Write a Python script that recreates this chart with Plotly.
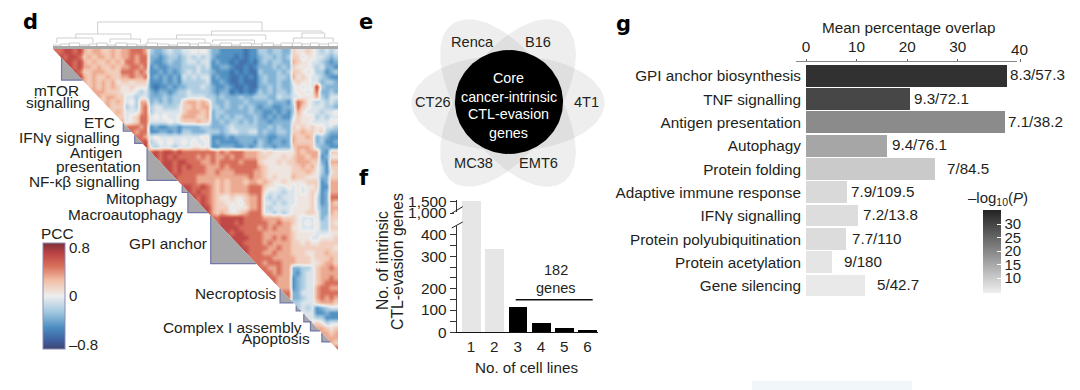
import numpy as np
import plotly.graph_objects as go

W, H = 1080, 390
FONT = "Liberation Sans"
INK = "#231f20"

pcc_levels = {"0":-.65,"1":-.5,"2":-.36,"3":-.22,"4":-.07,"5":.05,"6":.17,"7":.32,"8":.5,"9":.68}
pcc_rows = [
"889989|767766767|78887|3223433|445454|2211|111011|3323322|65565|43434",
"98998|676776767|78788|2212332|343434|2111|101011|2332323|66455|44323",
"9989|767667676|88788|2112322|344344|1211|010010|2323322|76554|43212",
"989|776766767|78878|1211222|333434|1122|100101|2223232|65554|34221",
"98|667776668|88787|1121212|343433|2111|010100|3222323|66545|33123",
"9|767667667|78778|1212121|434344|1211|001010|2322332|75654|43211",
"767676756|65666|1112121|333334|1121|001000|2322322|56554|42332",
"67676765|56555|1011212|233343|2112|100100|2232322|45454|93222",
"7776665|55434|2122123|343333|2122|010101|3232332|45545|82232",
"767766|44344|2223233|344443|3232|223223|3322433|44555|73244",
"67676|45377|2323233|677676|3223|222322|2232221|48754|34343",
"7666|34378|3443334|667677|3323|223232|1221122|38654|44332",
"676|44478|3444444|677767|2332|222232|2112121|37544|43445",
"66|45688|4545445|777667|2323|233223|2121211|46555|34344",
"7|45688|4444545|666766|2232|332323|2212222|56554|44455",
"88878|1211221|222233|2223|433333|2232322|65656|55443",
"8788|1122121|332223|3323|443344|2322332|66766|56322",
"887|4544444|444455|1112|122222|2211222|76676|23211",
"89|3454544|545445|1211|112221|3212212|76666|23112",
"9|4344434|445545|1122|211212|3221222|67776|32211",
"8989989|888888|8787|888777|6565555|57677|72166",
"989898|888787|8778|788777|6655565|67767|71255",
"89989|988877|8788|887888|6555656|67776|62177",
"9989|898887|7787|888888|7655555|66767|53166",
"989|888887|7877|788887|7655555|66676|53156",
"98|888777|7777|777787|7656555|76655|52266",
"8|888777|7676|777677|6765565|55566|61277",
"998898|7676|777788|8655445|45455|61177",
"98988|7676|777788|8544434|45456|51277",
"9898|7655|655677|8434344|45556|41288",
"898|7665|554677|8443434|45556|41276",
"99|7666|455577|8434444|55556|42277",
"9|7676|556788|8443434|55566|52276",
"8899|999888|8777766|65444|52366",
"899|989888|8877877|65454|53365",
"99|998888|7878777|55444|53366",
"9|899888|8777777|65555|44455",
"999988|8778787|65554|45556",
"99888|8787777|66565|56666",
"9988|8877877|66666|66665",
"988|8778777|66655|66766",
"88|8887777|76665|66676",
"8|8788877|76665|56776",
"8877877|22334|67787",
"887877|21344|67777",
"88777|12344|67787",
"8777|12344|67888",
"777|12344|78877",
"88|22444|78888",
"8|22344|78787",
"33444|67776",
"3434|12344",
"444|11211",
"44|33111",
"5|65344",
"77656",
"7767",
"777",
"76",
"8",
]
pcc_colorscale = [[0,"#3f4674"],[.08,"#3f5f9e"],[.2,"#4a8cc0"],[.35,"#a3c8e0"],[.5,"#eeeeee"],
                  [.65,"#f2bda4"],[.78,"#d8705c"],[.9,"#bd4444"],[1,"#7d3038"]]
pcc_ticks = [-0.8, 0, 0.8]
pcc_ticktext = ["–0.8", "0", "0.8"]
# gene-order spans of the grey module triangles
module_start = [9, 74, 86, 99, 136, 142, 166, 239, 256, 264, 271, 283]
module_end   = [31, 82, 94, 131, 143, 163, 214, 253, 261, 272, 281, 292]
# dendrogram brackets: left, right, height, left-leg bottom, right-leg bottom
dendro = [
 (47,220,27,15,18),(24,82,15,11,10),(167,283,18,14,16),(130,224,14,10,9),(262,286,16,11,11),
 (253,295,11,7,7),(4,42,11,6,6),(60,92,10,6,6),(100,160,10,6,6),(168,212,9,6,5),
 (0,8,4,1,1),(8,17,5,1,1),(17,28,6,1,1),(28,38,4,1,1),(38,46,5,1,1),(46,57,6,1,1),(57,66,4,1,1),
 (66,78,6,1,1),(78,88,5,1,1),(88,98,4,1,1),(98,110,6,1,1),(110,122,5,1,1),(122,131,4,1,1),
 (131,144,6,1,1),(144,153,5,1,1),(153,166,6,1,1),(166,176,4,1,1),(176,188,6,1,1),(188,197,4,1,1),
 (197,209,6,1,1),(209,220,5,1,1),(220,232,6,1,1),(232,240,4,1,1),(240,252,6,1,1),(252,262,6,1,1),
 (262,271,5,1,1),(271,280,6,1,1),(280,290,5,1,1),(290,300,6,1,1),
]

# ---------- panel f
cell_lines = [1, 2, 3, 4, 5, 6]
gene_counts = [1500, 335, 115, 41, 18, 9]
bar_f_colors = ["#e6e6e6", "#e6e6e6", "#000000", "#000000", "#000000", "#000000"]
# the axis is broken and unevenly drawn: value -> drawn height
axis_values  = [0, 100, 200, 300, 400, 1000, 1500]
axis_heights = [0, 22.3, 43.7, 75.7, 98, 119.3, 131]
axis_labels  = ["0", "100", "200", "300", "400", "1,000", "1,500"]
axis_minor   = [11, 33, 54.5, 65, 87]

# ---------- panel g
pathways = ["GPI anchor biosynthesis","TNF signalling","Antigen presentation","Autophagy","Protein folding",
            "Adaptive immune response","IFNγ signalling","Protein polyubiquitination","Protein acetylation","Gene silencing"]
overlap = [39.7, 20.5, 39.3, 16.1, 25.5, 8.1, 10.3, 8.0, 5.1, 11.7]
logp = [33, 29.6, 19.5, 15.4, 10.1, 7.8, 7.2, 7.3, 6, 5.4]
ratio = ["8.3/57.3","9.3/72.1","7.1/38.2","9.4/76.1","7/84.5","7.9/109.5","7.2/13.8","7.7/110","9/180","5/42.7"]
ratio_shift = [1, 2, 1.5, 2.5, 10, 2, 3, 4, 10, 10]
overlap_ticks = [0, 10, 20, 30, 42.3]
overlap_ticktext = ["0", "10", "20", "30", ""]
overlap_last_label = "40"
logp_ticks = [10, 15, 20, 25, 30]
grey_scale = [[0, "#efefef"], [1, "#222222"]]

# ---------- panel e
venn_angles = [0, 55, 125]
venn_labels = ["Renca", "B16", "CT26", "4T1", "MC38", "EMT6"]
venn_x = [472, 538, 433, 586, 473, 538]
venn_y = [42, 42, 102, 102, 163, 163]
core_lines = ["Core", "cancer-intrinsic", "CTL-evasion", "genes"]
core_y = [78, 97, 114, 133]

# ---------- helpers
def fx(p): return p / W
def fy(p): return 1 - p / H
def dom_x(a, b): return [fx(a), fx(b)]
def dom_y(top, bottom): return [fy(bottom), fy(top)]

notes = []
def T(text, x, y, anchor="center", size=15.4, color=INK, angle=0, weight=None, family=FONT):
    if anchor == "right":
        x += 2
    notes.append(dict(text=text, x=fx(x), y=fy(y), xref="paper", yref="paper", xanchor=anchor, yanchor="middle",
                      showarrow=False, textangle=angle, align=anchor if anchor != "middle" else "center",
                      font=dict(family=family, size=size, color=color, weight=weight or "normal")))

fig = go.Figure()

# helper pixel axes for the Venn diagram
for ang in venn_angles:
    a, b, r = 96.5, 48, np.deg2rad(ang)
    t = np.linspace(0, 2*np.pi, 121)
    ex = 508 + a*np.cos(t)*np.cos(r) - b*np.sin(t)*np.sin(r)
    ey = 103 - (a*np.cos(t)*np.sin(r) + b*np.sin(t)*np.cos(r))
    fig.add_trace(go.Scatter(x=ex, y=ey, xaxis="x4", yaxis="y4", mode="lines", fill="toself", line=dict(width=0),
                             fillcolor="rgba(120,120,120,0.13)", hoverinfo="skip", showlegend=False))
t = np.linspace(0, 2*np.pi, 121)
fig.add_trace(go.Scatter(x=509+54*np.cos(t), y=102+52*np.sin(t), xaxis="x4", yaxis="y4", mode="lines", fill="toself",
                         line=dict(width=0), fillcolor="#000000", hoverinfo="skip", showlegend=False))

# panel d heatmap
N = len(pcc_rows)
Z = np.full((N, N), np.nan)
for i, s in enumerate(pcc_rows):
    digits = s.replace("|", "")
    digits = digits[-(N - i):].rjust(N - i, digits[0])      # rows are right-aligned to the last column
    row = [pcc_levels[c] for c in digits]
    Z[i, i:] = row
    Z[i:, i] = row
cell = 5
fig.add_trace(go.Heatmap(z=Z, x0=cell/2, dx=cell, y0=cell/2, dy=cell, colorscale=pcc_colorscale, zmin=-.875, zmax=.875, xaxis="x", yaxis="y", zsmooth="best",
    hoverinfo="skip", colorbar=dict(x=fx(43), xanchor="left", xpad=0, y=fy(243), yanchor="top", ypad=0, len=106/H, lenmode="fraction",
        thickness=22, thicknessmode="pixels", tickvals=pcc_ticks, ticktext=pcc_ticktext, ticks="", outlinecolor="#8a8db5", outlinewidth=1,
        tickfont=dict(family=FONT, size=15, color=INK))))
size = N*cell
fig.add_trace(go.Scatter(x=[0, 0, size, 0], y=[0, size, size, 0], mode="lines", fill="toself", fillcolor="white",
                         line=dict(width=0), hoverinfo="skip", showlegend=False, xaxis="x", yaxis="y"))
for s, e in zip(module_start, module_end):
    fig.add_trace(go.Scatter(x=[s, s, e], y=[s, e, e], mode="lines", fill="toself", fillcolor="#a7a7aa",
                             line=dict(width=1.2, color="#7377a8"), hoverinfo="skip", showlegend=False, xaxis="x", yaxis="y"))
# dendrogram
dx_, dy_ = [], []
for l, r, h, lb, rb in dendro:
    dx_ += [l, l, r, r, None]; dy_ += [lb, h, h, rb, None]
fig.add_trace(go.Scatter(x=dx_, y=dy_, mode="lines", line=dict(width=.9, color="#c9c9c9"), hoverinfo="skip", showlegend=False, xaxis="x5", yaxis="y5"))
fig.add_trace(go.Scatter(x=[0, size], y=[1, 1], mode="lines", line=dict(width=4, color="#a8a8a8"), hoverinfo="skip", showlegend=False, xaxis="x5", yaxis="y5"))

# panel f
to_height = lambda v: np.interp(v, axis_values, axis_heights)
fig.add_trace(go.Bar(x=cell_lines, y=to_height(gene_counts), marker=dict(color=bar_f_colors, line=dict(width=0)), width=.8,
                     xaxis="x2", yaxis="y2", hoverinfo="skip", showlegend=False))

# panel g
fig.add_trace(go.Bar(y=pathways, x=overlap, orientation="h", width=.93, xaxis="x3", yaxis="y3", hoverinfo="skip", showlegend=False,
    marker=dict(color=logp, colorscale=grey_scale, cmin=4.5, cmax=35.2, line=dict(width=0), showscale=True,
        colorbar=dict(x=fx(982.5), xanchor="left", xpad=0, y=fy(210), yanchor="top", ypad=0, len=83/H, lenmode="fraction",
            thickness=17.5, thicknessmode="pixels", tickvals=logp_ticks, ticks="inside", ticklen=4, tickcolor="white", outlinewidth=0,
            tickfont=dict(family=FONT, size=15, color=INK)))))
for name, v, txt, sh in zip(pathways, overlap, ratio, ratio_shift):
    notes.append(dict(text=txt, x=v, y=name, xref="x3", yref="y3", xanchor="left", yanchor="middle", xshift=sh, yshift=1, showarrow=False,
                      font=dict(family=FONT, size=15.2, color=INK)))

# text
for s, x, y in [("d", 30, 22), ("e", 366, 22), ("f", 364, 178), ("g", 624, 24)]:
    T(s, x, y, size=21, color="#000000", weight="bold", family="DejaVu Sans")
T("mTOR", 56, 90); T("signalling", 58, 103)
T("ETC", 115, 122, "right")
T("IFNγ signalling", 120, 137, "right")
T("Antigen", 95.5, 153); T("presentation", 98, 166)
T("NF-κβ signalling", 140, 181, "right")
T("Mitophagy", 177, 198, "right")
T("Macroautophagy", 183, 214, "right")
T("GPI anchor", 207, 243, "right")
T("Necroptosis", 277, 293, "right")
T("Complex I assembly", 302, 327, "right")
T("Apoptosis", 310, 338, "right")
T("PCC", 57, 233)
for s, x, y in zip(venn_labels, venn_x, venn_y):
    T(s, x, y, size=14.6)
for s, y in zip(core_lines, core_y):
    T(s, 509, y, size=14.3, color="white")
T("No. of intrinsic", 382, 261, size=15.6, angle=-90)
T("CTL-evasion genes", 397, 262, size=15.8, angle=-90)
T("182", 555.7, 270, size=14.5); T("genes", 555.7, 288, size=14.5)
T("No. of cell lines", 526, 367, size=15.2)
T("Mean percentage overlap", 908, 28, size=15.3)
T(overlap_last_label, 1019, 50, size=15.3)
T("–log<sub>10</sub>(<i>P</i>)", 997.7, 198, size=15)

shapes = [
    dict(type="line", xref="paper", yref="paper", x0=fx(515.7), x1=fx(592.7), y0=fy(299.7), y1=fy(299.7), line=dict(color="#111", width=1.5)),
    dict(type="rect", xref="paper", yref="paper", x0=fx(454), x1=fx(460), y0=fy(226), y1=fy(212), fillcolor="white", line=dict(width=0)),
    dict(type="line", xref="paper", yref="paper", x0=fx(451.7), x1=fx(462.7), y0=fy(213.3), y1=fy(206.7), line=dict(color="#222", width=1)),
    dict(type="line", xref="paper", yref="paper", x0=fx(451.7), x1=fx(462.7), y0=fy(228), y1=fy(222), line=dict(color="#222", width=1)),
    dict(type="line", xref="paper", yref="paper", x0=fx(796), x1=fx(1017), y0=fy(61.5), y1=fy(61.5), line=dict(color="#888", width=1)),
    dict(type="rect", xref="paper", yref="paper", x0=fx(752), x1=fx(912), y0=fy(390), y1=fy(381), fillcolor="#f1f6fb", line=dict(width=0), layer="below"),
]

hidden = dict(visible=False, fixedrange=True)
fig.update_layout(
    width=W, height=H, margin=dict(l=0, r=0, t=0, b=0, autoexpand=False), paper_bgcolor="white", plot_bgcolor="rgba(0,0,0,0)", showlegend=False,
    annotations=notes, shapes=shapes, bargap=0,
    xaxis=dict(domain=dom_x(53, 338), range=[0, size], **hidden),
    yaxis=dict(domain=dom_y(49, 350), range=[size, 0], **hidden),
    xaxis5=dict(domain=dom_x(53, 338), range=[0, size], anchor="y5", **hidden),
    yaxis5=dict(domain=dom_y(20, 49), range=[0, 29], anchor="x5", **hidden),
    xaxis4=dict(domain=[0, 1], range=[0, W], anchor="y4", **hidden),
    yaxis4=dict(domain=[0, 1], range=[H, 0], anchor="x4", **hidden),
    xaxis2=dict(domain=dom_x(456.7, 598), range=[.386, 6.45], anchor="y2", tickvals=cell_lines, ticks="", showline=True, linecolor="#111", linewidth=1.3,
                showgrid=False, zeroline=False, tickfont=dict(family=FONT, size=15.2, color=INK), fixedrange=True),
    yaxis2=dict(domain=dom_y(200, 332.3), range=[0, 132.3], anchor="x2", showline=True, linecolor="#333", linewidth=1, showgrid=False, zeroline=False,
                tickvals=axis_heights + axis_minor, ticktext=axis_labels + [""]*len(axis_minor), ticks="outside", ticklen=6, tickcolor="#333",
                tickfont=dict(family=FONT, size=15.4, color=INK), fixedrange=True),
    xaxis3=dict(domain=dom_x(806, 1020), range=[0, 42.3], anchor="free", position=fy(61.5), side="top", showline=False, showgrid=False, zeroline=False,
                tickvals=overlap_ticks, ticktext=overlap_ticktext, ticks="outside", ticklen=3, tickcolor="#666",
                tickfont=dict(family=FONT, size=15.3, color=INK), fixedrange=True),
    yaxis3=dict(domain=dom_y(64.3, 297.6), range=[9.5, -0.5], anchor="x3", type="category", categoryorder="array", categoryarray=pathways, showline=False,
                showgrid=False, zeroline=False, ticks="outside", ticklen=1, tickcolor="rgba(0,0,0,0)", tickfont=dict(family=FONT, size=15.3, color=INK), fixedrange=True),
)
fig.write_html("out.html", post_script="document.body.style.margin='0';", config=dict(displayModeBar=False))
